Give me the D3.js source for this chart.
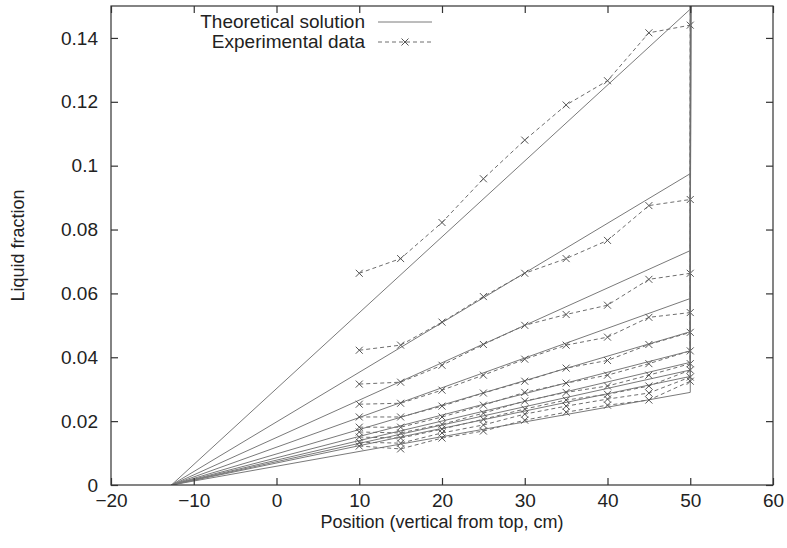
<!DOCTYPE html>
<html>
<head>
<meta charset="utf-8">
<script src="https://cdn.jsdelivr.net/npm/d3@7"></script>
<style>
  body { margin: 0; background: #fff; }
  svg { display: block; font-family: "Liberation Sans", Arial, Helvetica, sans-serif; }
</style>
</head>
<body>
<svg id="chart" width="787" height="548"></svg>
<script>
// Measurement positions (cm from top) and the bottom of the column
const positions = [10, 15, 20, 25, 30, 35, 40, 45, 50];
const theoryOrigin = -12.7;      // x where the theoretical profiles reach zero
const columnBottom = 50;         // bottom of the column
const verticalRise = 1.0;        // liquid fraction reached at the drained bottom

// Theoretical liquid fraction at the bottom of the column (x = 50), one per run
const theoryEnd = [0.149, 0.0975, 0.0734, 0.0584, 0.048, 0.042, 0.0384, 0.036, 0.034, 0.029];

// Experimental liquid fraction, one array per run, sampled at `positions`
const exp1  = [0.0663, 0.0709, 0.0822, 0.0959, 0.108, 0.119, 0.1266, 0.1416, 0.144];
const exp2  = [0.0422, 0.0438, 0.051, 0.059, 0.0663, 0.0709, 0.0766, 0.0875, 0.0894];
const exp3  = [0.0316, 0.0322, 0.0375, 0.044, 0.050, 0.0534, 0.0563, 0.0644, 0.0663];
const exp4  = [0.0253, 0.0256, 0.0297, 0.0344, 0.0394, 0.0438, 0.0463, 0.0525, 0.054];
const exp5  = [0.0213, 0.0213, 0.0247, 0.0288, 0.0325, 0.0366, 0.039, 0.044, 0.0478];
const exp6  = [0.0181, 0.0181, 0.0213, 0.025, 0.029, 0.0319, 0.0344, 0.038, 0.042];
const exp7  = [0.0166, 0.0163, 0.019, 0.0225, 0.0263, 0.029, 0.031, 0.0344, 0.038];
const exp8  = [0.015, 0.0147, 0.0175, 0.0206, 0.0238, 0.0266, 0.0284, 0.031, 0.036];
const exp9  = [0.0134, 0.0131, 0.0163, 0.0188, 0.0222, 0.0247, 0.0269, 0.0288, 0.0338];
const exp10 = [0.0122, 0.0113, 0.0147, 0.0169, 0.0203, 0.0228, 0.025, 0.0266, 0.0325];
const experiments = [exp1, exp2, exp3, exp4, exp5, exp6, exp7, exp8, exp9, exp10];

const xTicks = [-20, -10, 0, 10, 20, 30, 40, 50, 60];
const yTicks = [0, 0.02, 0.04, 0.06, 0.08, 0.1, 0.12, 0.14];

const svg = d3.select("#chart");
const margin = { left: 111, right: 14, top: 6, bottom: 63 };
const W = 787, H = 548;
const x = d3.scaleLinear().domain([-20, 60]).range([margin.left, W - margin.right]);
const y = d3.scaleLinear().domain([0, 0.15]).range([H - margin.bottom, margin.top]);

svg.append("defs").append("clipPath").attr("id", "plot-clip")
  .append("rect")
  .attr("x", x.range()[0]).attr("y", y.range()[1])
  .attr("width", x.range()[1] - x.range()[0])
  .attr("height", y.range()[0] - y.range()[1]);

const line = d3.line().x(d => x(d[0])).y(d => y(d[1]));
const plot = svg.append("g").attr("clip-path", "url(#plot-clip)");

// Theoretical profiles: linear from the origin, then a steep rise at the bottom
theoryEnd.forEach(v => {
  const pts = [[theoryOrigin, 0], [columnBottom, v], [columnBottom + 0.5, verticalRise]];
  plot.append("path").attr("d", line(pts))
    .attr("fill", "none").attr("stroke", "#7a7a7a").attr("stroke-width", 1);
});

// Experimental profiles: dashed lines with cross markers
const crossPath = s => `M${-s},${-s}L${s},${s}M${-s},${s}L${s},${-s}`;
experiments.forEach(vals => {
  const pts = positions.map((p, i) => [p, vals[i]]);
  const withRise = pts.concat([[columnBottom + 0.2, verticalRise]]);
  plot.append("path").attr("d", line(withRise))
    .attr("fill", "none").attr("stroke", "#6e6e6e").attr("stroke-width", 1)
    .attr("stroke-dasharray", "4,3");
  plot.selectAll(null).data(pts).enter().append("path")
    .attr("transform", d => `translate(${x(d[0])},${y(d[1])})`)
    .attr("d", crossPath(3.5))
    .attr("fill", "none").attr("stroke", "#555").attr("stroke-width", 1);
});

// Frame with inward ticks on all four sides
const frame = svg.append("g");
frame.append("rect")
  .attr("x", x.range()[0]).attr("y", y.range()[1])
  .attr("width", x.range()[1] - x.range()[0])
  .attr("height", y.range()[0] - y.range()[1])
  .attr("fill", "none").attr("stroke", "#333").attr("stroke-width", 1.2);

const tickLen = 7;
const axisFont = 19;
const bottomAxis = d3.axisBottom(x).tickValues(xTicks).tickSizeInner(-tickLen).tickSizeOuter(0).tickPadding(9)
  .tickFormat(d3.format("d"));
const topAxis = d3.axisTop(x).tickValues(xTicks).tickSizeInner(-tickLen).tickSizeOuter(0).tickFormat("");
const leftAxis = d3.axisLeft(y).tickValues(yTicks).tickSizeInner(-tickLen).tickSizeOuter(0).tickPadding(13)
  .tickFormat(d => d === 0 ? "0" : d3.format("")(+d.toFixed(2)));
const rightAxis = d3.axisRight(y).tickValues(yTicks).tickSizeInner(-tickLen).tickSizeOuter(0).tickFormat("");

function styleAxis(g) {
  g.select(".domain").remove();
  g.selectAll(".tick line").attr("stroke", "#333").attr("stroke-width", 1.2);
  g.selectAll(".tick text").attr("fill", "#222").style("font-size", axisFont + "px");
}
svg.append("g").attr("transform", `translate(0,${y(0)})`).call(bottomAxis).call(styleAxis);
svg.append("g").attr("transform", `translate(0,${y(0.15)})`).call(topAxis).call(styleAxis);
svg.append("g").attr("transform", `translate(${x(-20)},0)`).call(leftAxis).call(styleAxis);
svg.append("g").attr("transform", `translate(${x(60)},0)`).call(rightAxis).call(styleAxis);

// Axis titles
svg.append("text")
  .attr("x", 442).attr("y", 528)
  .attr("text-anchor", "middle").attr("fill", "#222").style("font-size", "18px")
  .text("Position (vertical from top, cm)");
svg.append("text")
  .attr("transform", `translate(24,${(y.range()[0] + y.range()[1]) / 2}) rotate(-90)`)
  .attr("text-anchor", "middle").attr("fill", "#222").style("font-size", "18px")
  .text("Liquid fraction");

// Legend
const legend = svg.append("g");
const legendItems = [
  { label: "Theoretical solution", dashed: false, marker: false },
  { label: "Experimental data", dashed: true, marker: true }
];
legendItems.forEach((item, i) => {
  const ly = 22 + i * 20;
  legend.append("text").attr("x", 365).attr("y", ly + 6)
    .attr("text-anchor", "end").attr("fill", "#222").style("font-size", "19px")
    .text(item.label);
  legend.append("line").attr("x1", 378).attr("x2", 432).attr("y1", ly).attr("y2", ly)
    .attr("stroke", item.dashed ? "#6e6e6e" : "#7a7a7a").attr("stroke-width", 1)
    .attr("stroke-dasharray", item.dashed ? "4,3" : null);
  if (item.marker) {
    legend.append("path").attr("transform", `translate(405,${ly})`)
      .attr("d", crossPath(3.5)).attr("fill", "none").attr("stroke", "#555");
  }
});
</script>
</body>
</html>
